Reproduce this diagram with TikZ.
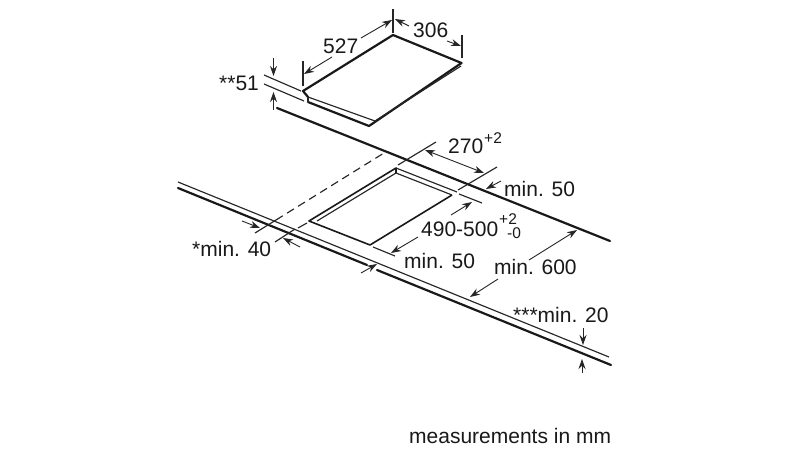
\documentclass[tikz,border=0pt]{standalone}
\usepackage{fontspec}
\setmainfont{Liberation Sans}
\usetikzlibrary{arrows.meta}
\tikzset{
  thick line/.style={line width=2.2pt,black!90,line cap=round,line join=round},
  mid line/.style={line width=1.6pt,black!90,line join=round},
  thin line/.style={line width=1.15pt,black!85},
  dim/.style={line width=0.9pt,black!85,-{Stealth[length=10pt,width=7pt]}},
  dim both/.style={line width=0.9pt,black!85,{Stealth[length=10pt,width=7pt]}-{Stealth[length=10pt,width=7pt]}},
  lab/.style={anchor=base west,inner sep=0pt,font=\fontsize{21}{23}\selectfont,text=black!90},
  sup/.style={anchor=base west,inner sep=0pt,font=\fontsize{15.5}{16}\selectfont,text=black!90}
}
\begin{document}
\begin{tikzpicture}[x=1pt,y=-1pt]
\useasboundingbox (0,0) rectangle (800,450);
\fill[white] (0,0) rectangle (800,450);
% hob
\draw[thick line] (461.5,63) -- (393,35) -- (303,91) -- (308,97);
\draw[thick line] (461.5,63) -- (369,126) -- (308,102);
\draw[thin line] (308,97) -- (308,102);
\draw[thin line] (308,97) -- (375,121) -- (461,66);
% hob dimensions
\draw[thin line] (303,61) -- (303,86);
\draw[thin line] (393,9) -- (393,33);
\draw[thin line] (462,35) -- (462,58);
\draw[dim] (332,57) -- (304,74);
\draw[dim] (361,38) -- (392,20);
\draw[dim] (409,26) -- (395,19);
\draw[dim] (447,41) -- (461,46);
% **51
\draw[thin line] (264,75) -- (301,91);
\draw[thin line] (264,84) -- (304,101);
\draw[dim] (273.5,58) -- (273.5,76);
\draw[dim] (273.5,110) -- (273.5,92);
% rear worktop edge
\draw[thick line] (277,108) -- (610,241);
% front worktop edge
\draw[thin line] (178,182) -- (609,357);
\draw[thick line] (178,188) -- (367,265);
\draw[thick line] (377,270) -- (611,365);
% cut-out
\draw[mid line] (396,173) -- (396,168) -- (309,221) -- (370,245) -- (452,195);
\draw[thin line] (396,168) -- (457,192);
\draw[thin line] (396,173) -- (452,195);
\draw[thin line] (396,173) -- (317,221);
% extension lines
\draw[thin line] (398,165) -- (436,142);
\draw[thin line] (458,190) -- (497,167);
\draw[thin line,dashed,dash pattern=on 8pt off 5pt] (276,220) -- (384,153);
\draw[thin line] (255,233) -- (276,220);
\draw[thin line] (275,242) -- (295,229);
\draw[thin line] (298,228) -- (307,223);
\draw[thin line] (459,194) -- (482,203);
\draw[thin line] (373,247) -- (395,256);
% dimensions
\draw[dim both] (425,150) -- (484,173);
\draw[dim] (501,181) -- (486,189);
\draw[dim] (451,215) -- (472,202);
\draw[dim] (418,237) -- (391,253);
\draw[dim] (529,260) -- (577,230);
\draw[dim] (498,279) -- (470,297);
\draw[dim] (242,221) -- (260,228);
\draw[dim] (300,247) -- (283,238);
\draw[dim] (361,273) -- (377,264);
\draw[dim] (583,328) -- (583,345);
\draw[dim] (582,373) -- (582,359);
% labels
\node[lab] (l527) at (323,53) {527};
\node[lab] (l306) at (413,37) {306};
\node[lab] (l51) at (219,90) {**51};
\node[lab] (l270) at (448,153) {270};
\node[sup] (l270s) at (484,143) {+2};
\node[lab] (lmin50a) at (504,196) {min. 50};
\node[lab] (l490) at (421,236) {490-500};
\node[sup] (l490a) at (499,224) {+2};
\node[sup] (l490b) at (507,238) {-0};
\node[lab] (lmin50b) at (404,268) {min. 50};
\node[lab] (lmin600) at (494,274) {min. 600};
\node[lab] (lmin20) at (513,322) {***min. 20};
\node[lab] (lmin40) at (192,256) {*min. 40};
\node[lab] (lmm) at (409,443) {measurements in mm};
\end{tikzpicture}
\end{document}
